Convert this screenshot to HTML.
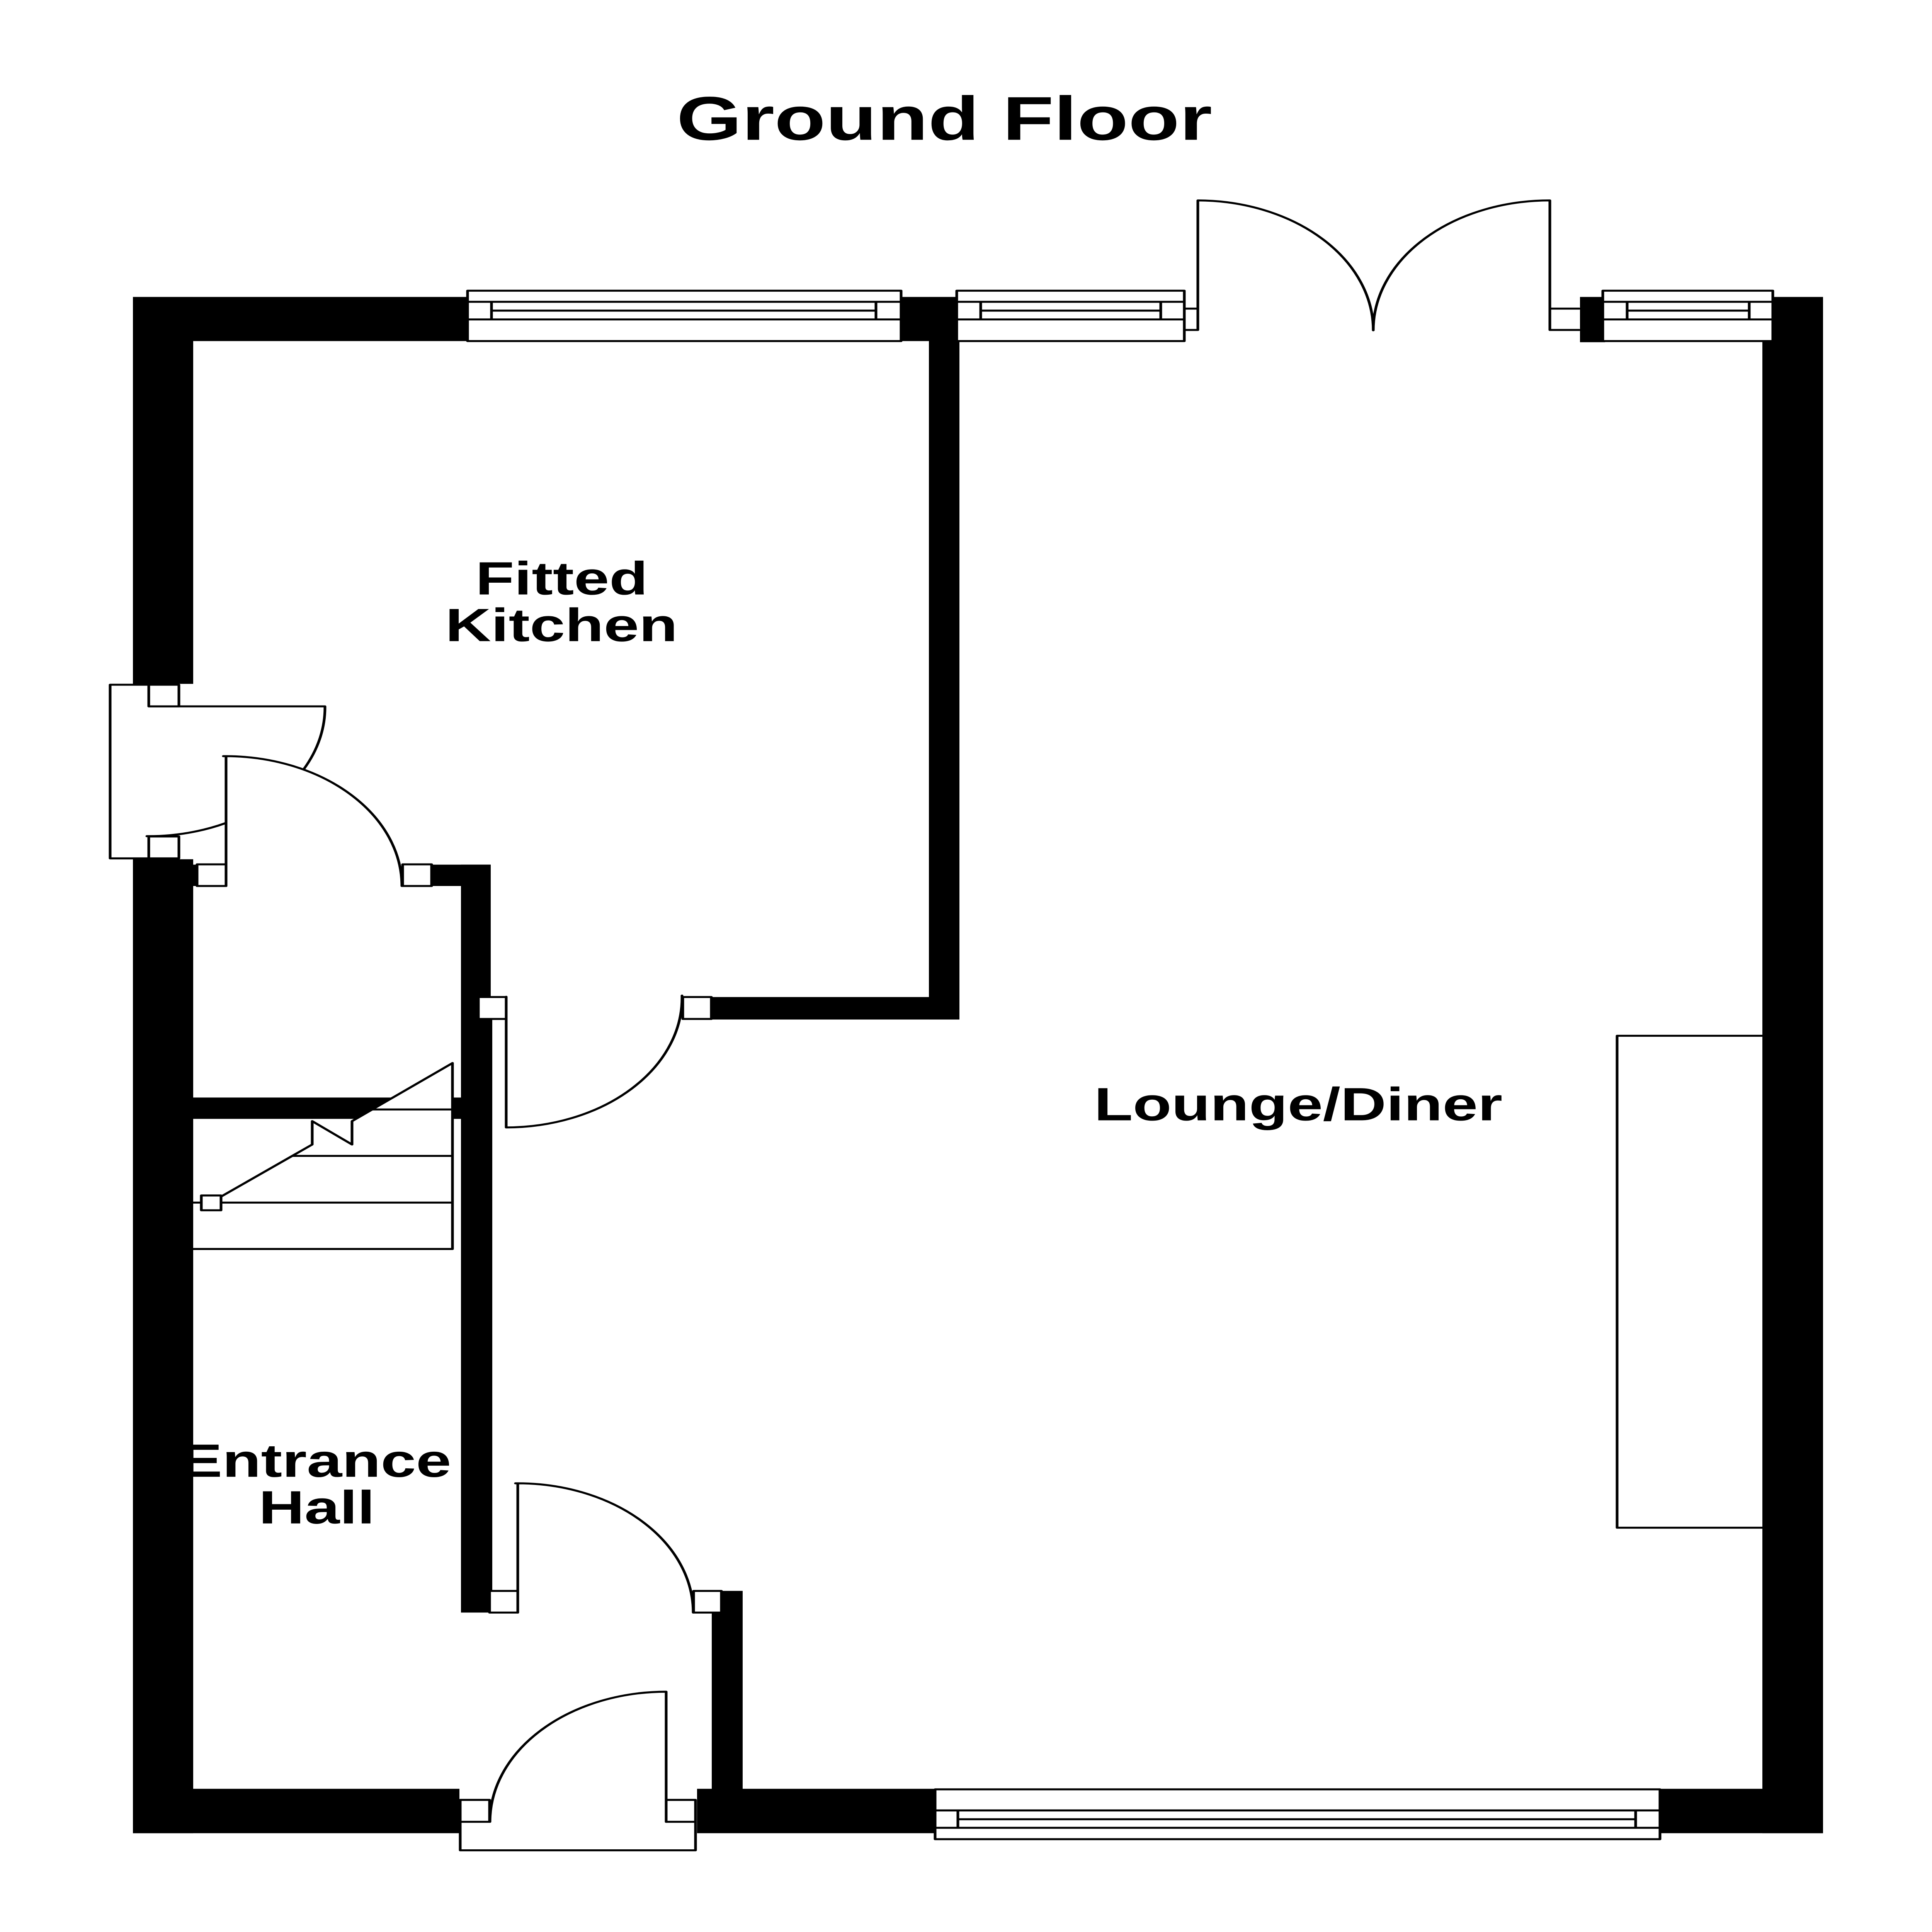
<!DOCTYPE html>
<html lang="en">
<head>
<meta charset="utf-8">
<title>Ground Floor</title>
<style>
html,body{margin:0;padding:0;background:#fff;width:100%;height:100%;overflow:hidden}
svg{display:block;width:100vw;height:100vh}
text{font-family:"Liberation Sans",Arial,sans-serif;font-weight:bold;fill:#000}
.l{fill:none;stroke:#000;stroke-width:7;stroke-linejoin:round;stroke-linecap:round}
.w{fill:#fff;stroke:#000;stroke-width:7;stroke-linejoin:round}
</style>
</head>
<body>
<svg xmlns="http://www.w3.org/2000/svg" viewBox="0 0 5000 6786" preserveAspectRatio="none">
<rect width="5000" height="6786" fill="#fff"/>

<!-- walls -->
<g fill="#000">
<rect x="344" y="1043" width="866" height="155"/>
<rect x="344" y="1043" width="156" height="1359"/>
<rect x="344" y="3018" width="156" height="3421"/>
<rect x="500" y="3037" width="12" height="75"/>
<rect x="344" y="6283" width="845" height="156"/>
<rect x="1804" y="6283" width="2914" height="156"/>
<rect x="4561" y="1198" width="157" height="5241"/>
<rect x="4588" y="1043" width="130" height="160"/>
<rect x="4089" y="1043" width="65" height="159"/>
<rect x="2332" y="1043" width="144" height="155"/>
<rect x="2404" y="1043" width="79" height="2538"/>
<rect x="1841" y="3502" width="641" height="79"/>
<rect x="1117" y="3037" width="153" height="75"/>
<rect x="1193" y="3037" width="77" height="470"/>
<rect x="1193" y="3500" width="50" height="90"/>
<rect x="1193" y="3575" width="81" height="2089"/>
<rect x="1842" y="5588" width="80" height="700"/>
<rect x="1867" y="5588" width="55" height="76"/>
<polygon points="500,3855 1017,3855 921,3930 500,3930"/>
<rect x="1171" y="3855" width="24" height="75"/>
</g>

<!-- top windows -->
<g>
<rect class="w" x="1210" y="1021" width="1122" height="177"/>
<path class="l" d="M1210,1060H2332M1210,1122H2332M1272,1060V1122M2267,1060V1122M1272,1091H2267"/>
<rect class="w" x="2476" y="1021" width="589" height="177"/>
<path class="l" d="M2476,1060H3065M2476,1122H3065M2538,1060V1122M3004,1060V1122M2538,1091H3004"/>
<rect class="w" x="4148" y="1021" width="440" height="177"/>
<path class="l" d="M4148,1060H4588M4148,1122H4588M4211,1060V1122M4527,1060V1122M4211,1091H4527"/>
</g>

<!-- bottom window -->
<rect class="w" x="2420" y="6285" width="1876" height="175"/>
<path class="l" d="M2420,6359H4296M2420,6420H4296M2479,6359V6420M4233,6359V6420M2479,6390H4233"/>

<!-- french doors -->
<path class="l" d="M3065,1084H3100M3065,1159H3100M3100,1159V704A455,456 0 0 1 3554,1160"/>
<path class="l" d="M4087,1084H4011M4087,1159H4011V704A456,456 0 0 0 3554,1160"/>

<!-- side door box -->
<path class="w" d="M463,2405H285V3015H463"/>
<rect class="w" x="385" y="2405" width="78" height="76"/>
<rect class="w" x="385" y="2938" width="78" height="77"/>
<path class="l" d="M385,2481H841A456,456 0 0 1 786,2702"/>
<path class="l" d="M380,2937H385A456,456 0 0 0 584,2891"/>

<!-- door kitchen / hall -->
<rect class="w" x="510" y="3036" width="75" height="76"/>
<rect class="w" x="1042" y="3036" width="75" height="76"/>
<path class="l" d="M578,2656H585V3112M585,2656A456,456 0 0 1 1040,3112"/>

<!-- door kitchen / lounge -->
<rect class="w" x="1238" y="3502" width="72" height="77"/>
<rect class="w" x="1767" y="3502" width="74" height="77"/>
<path class="l" d="M1310,3501V3960A455,455 0 0 0 1765,3497"/>

<!-- stairs -->
<path class="l" d="M1171,3734L911,3938V4020L808,3938V4020L572,4203"/>
<path class="l" d="M965,3897H1171M759,4060H1171M500,4224H1171M500,4387H1171V3734"/>
<rect class="w" x="521" y="4199" width="51" height="52"/>

<!-- door hall / lounge -->
<rect class="w" x="1267" y="5588" width="73" height="76"/>
<rect class="w" x="1795" y="5588" width="72" height="76"/>
<path class="l" d="M1334,5210H1340V5664M1340,5210A454,454 0 0 1 1794,5664"/>

<!-- front door -->
<path class="w" d="M1191,6322V6499H1800V6322"/>
<rect class="w" x="1191" y="6322" width="76" height="77"/>
<rect class="w" x="1724" y="6322" width="76" height="77"/>
<path class="l" d="M1724,6399V5942A456,457 0 0 0 1268,6399"/>

<!-- units -->
<path class="l" d="M4561,3638H4185V5366H4561"/>

<!-- labels -->
<text x="1751" y="491" font-size="217">Ground Floor</text>
<text x="1230.5" y="2088" font-size="164">Fitted</text>
<text x="1152.5" y="2252" font-size="164">Kitchen</text>
<text x="2831.5" y="3935" font-size="164">Lounge/Diner</text>
<text x="466" y="5187" font-size="164">Entrance</text>
<text x="669.5" y="5351" font-size="164">Hall</text>
</svg>
</body>
</html>
